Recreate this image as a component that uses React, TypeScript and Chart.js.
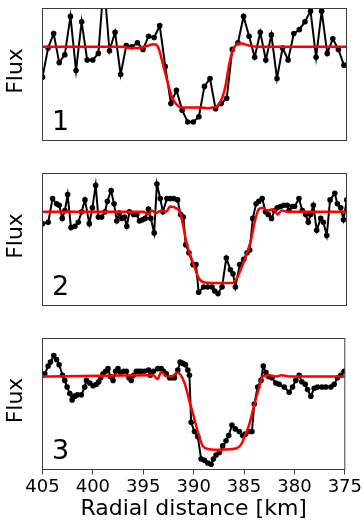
import React, { useEffect, useRef } from "react";
import { Chart, registerables } from "chart.js";

Chart.register(...registerables);

// ---------- data (radial distance in km, flux normalised to the panel range) ----------
const dist1 = [405.0, 404.45, 403.9, 403.35, 402.8, 402.24, 401.69, 401.14, 400.59, 400.04, 399.49, 398.94, 398.39, 397.84, 397.29, 396.73, 396.18, 395.63, 395.08, 394.53, 393.98, 393.43, 392.88, 392.33, 391.78, 391.22, 390.67, 390.12, 389.57, 389.02, 388.47, 387.92, 387.37, 386.82, 386.27, 385.71, 385.16, 384.61, 384.06, 383.51, 382.96, 382.41, 381.86, 381.31, 380.76, 380.2, 379.65, 379.1, 378.55, 378.0, 377.45, 376.9, 376.35, 375.8, 375.25, 374.7];
const flux1 = [0.48, 0.7, 0.81, 0.59, 0.65, 0.94, 0.53, 0.9, 0.61, 0.61, 0.66, 1.2, 0.68, 0.82, 0.5, 0.72, 0.71, 0.74, 0.69, 0.79, 0.78, 0.87, 0.56, 0.28, 0.38, 0.23, 0.14, 0.14, 0.18, 0.41, 0.47, 0.24, 0.28, 0.32, 0.69, 0.74, 0.94, 0.79, 0.63, 0.82, 0.61, 0.8, 0.47, 0.7, 0.61, 0.81, 0.84, 0.9, 0.98, 0.63, 0.98, 0.66, 0.77, 0.69, 0.57, 0.61];
const modelDist1 = [405, 397, 396.4, 395.6, 395.0, 394.5, 394.1, 393.75, 393.5, 393.22, 392.72, 392.23, 391.73, 391.24, 390.42, 389.5, 388.7, 388.2, 387.78, 387.28, 386.95, 386.62, 386.29, 386.0, 385.7, 385.4, 384.64, 383.82, 375];
const model1 = [0.71, 0.71, 0.7, 0.7, 0.71, 0.72, 0.73, 0.725, 0.69, 0.61, 0.46, 0.33, 0.27, 0.25, 0.25, 0.25, 0.245, 0.25, 0.26, 0.32, 0.41, 0.56, 0.67, 0.715, 0.735, 0.735, 0.72, 0.71, 0.71];

const dist2 = [405.0, 404.44, 404.01, 403.61, 403.35, 403.05, 402.79, 402.52, 402.19, 401.8, 401.47, 401.14, 400.81, 400.38, 400.08, 399.75, 399.49, 399.16, 398.83, 398.6, 398.23, 397.94, 397.67, 397.41, 397.18, 396.91, 396.68, 396.42, 396.02, 395.69, 395.43, 395.13, 394.87, 394.54, 394.31, 393.98, 393.71, 393.38, 393.12, 392.72, 392.39, 392.06, 391.67, 391.37, 391.1, 390.87, 390.55, 390.15, 389.85, 389.59,
  389.1, 388.7, 388.27, 388.01, 387.68, 387.28, 386.86, 386.46, 386.2, 385.96, 385.54, 385.14, 384.81, 384.55, 384.25, 383.92, 383.65, 383.32, 382.99, 382.73, 382.4, 382.1, 381.84, 381.51, 381.18, 380.85, 380.68, 380.35, 380.12, 379.69, 379.36, 379.03, 378.77, 378.54, 378.27, 377.94, 377.55, 377.28, 376.95, 376.62, 376.16, 375.9, 375.57, 375.3, 374.97];
const flux2 = [0.62, 0.63, 0.81, 0.77, 0.76, 0.66, 0.72, 0.84, 0.59, 0.6, 0.63, 0.71, 0.8, 0.62, 0.74, 0.91, 0.67, 0.67, 0.71, 0.79, 0.87, 0.77, 0.64, 0.7, 0.66, 0.67, 0.6, 0.71, 0.69, 0.69, 0.64, 0.65, 0.66, 0.73, 0.66, 0.55, 0.92, 0.81, 0.71, 0.81, 0.81, 0.81, 0.8, 0.69, 0.67, 0.46, 0.4, 0.31, 0.31, 0.1,
  0.14, 0.14, 0.14, 0.11, 0.09, 0.14, 0.36, 0.27, 0.24, 0.14, 0.31, 0.35, 0.4, 0.42, 0.66, 0.77, 0.79, 0.81, 0.71, 0.69, 0.66, 0.72, 0.74, 0.75, 0.76, 0.76, 0.72, 0.75, 0.75, 0.81, 0.72, 0.69, 0.63, 0.69, 0.76, 0.57, 0.66, 0.63, 0.53, 0.8, 0.85, 0.77, 0.74, 0.65, 0.8];
const modelDist2 = [405, 395.0, 394.55, 394.2, 393.8, 393.3, 392.8, 392.4, 391.75, 391.45, 391.24, 390.74, 390.08, 389.6, 389.0, 387.5, 386.3, 385.8, 385.14, 384.48, 383.98, 383.65, 383.3, 382.8, 382.2, 381.8, 381.4, 380.8, 375];
const model2 = [0.71, 0.71, 0.69, 0.72, 0.7, 0.72, 0.71, 0.75, 0.735, 0.71, 0.65, 0.46, 0.31, 0.21, 0.175, 0.17, 0.17, 0.21, 0.33, 0.48, 0.66, 0.73, 0.74, 0.72, 0.73, 0.69, 0.72, 0.71, 0.71];

const dist3 = [405.0, 404.77, 404.44, 404.21, 403.88, 403.61, 403.35, 403.02, 402.79, 402.56, 402.29, 402.06, 401.8, 401.53, 401.14, 400.81, 400.64, 400.31, 399.98, 399.65, 399.42, 399.22, 398.99, 398.73, 398.5, 398.27, 398.0, 397.74, 397.51, 397.24, 396.95, 396.68, 396.42, 396.19, 395.96, 395.69, 395.43, 395.2, 394.87, 394.47, 394.31, 393.98, 393.55, 393.22, 392.99, 392.72, 392.39, 392.13, 391.9, 391.57, 391.34, 391.07, 390.81, 390.58, 390.42,
  390.25, 389.92, 389.59, 389.26, 388.93, 388.6, 388.27, 388.04, 387.78, 387.45, 387.12, 386.79, 386.52, 386.2, 385.87, 385.47, 385.14, 384.88, 384.48, 384.22, 383.98, 383.65, 383.32, 383.09, 382.83, 382.57, 382.23, 381.84, 381.51, 381.01, 380.52, 380.19, 379.86, 379.53, 379.27, 378.93, 378.7, 378.37, 378.04, 377.71, 377.28, 376.89, 376.39, 376.06, 375.73, 375.4, 375.07];
const flux3 = [0.72, 0.73, 0.79, 0.82, 0.87, 0.84, 0.8, 0.72, 0.68, 0.63, 0.58, 0.53, 0.56, 0.57, 0.57, 0.63, 0.68, 0.66, 0.64, 0.65, 0.67, 0.7, 0.73, 0.75, 0.77, 0.71, 0.68, 0.75, 0.77, 0.74, 0.75, 0.75, 0.7, 0.68, 0.72, 0.75, 0.75, 0.75, 0.75, 0.76, 0.72, 0.75, 0.77, 0.77, 0.75, 0.73, 0.7, 0.7, 0.7, 0.76, 0.82, 0.81, 0.8, 0.76, 0.72,
  0.36, 0.29, 0.25, 0.08, 0.07, 0.05, 0.04, 0.08, 0.11, 0.13, 0.18, 0.22, 0.26, 0.34, 0.31, 0.29, 0.26, 0.27, 0.29, 0.29, 0.5, 0.63, 0.68, 0.79, 0.74, 0.71, 0.7, 0.66, 0.65, 0.63, 0.59, 0.63, 0.68, 0.72, 0.67, 0.65, 0.61, 0.56, 0.62, 0.63, 0.63, 0.63, 0.63, 0.65, 0.7, 0.72, 0.75];
const modelDist3 = [405, 394.0, 393.6, 393.2, 392.7, 392.2, 391.6, 391.2, 390.74, 390.42, 390.08, 389.59, 389.1, 388.44, 387.5, 386.5, 385.8, 385.3, 385.0, 384.5, 384.0, 383.49, 383.16, 382.5, 381.8, 381.3, 380.5, 375];
const model3 = [0.71, 0.72, 0.69, 0.745, 0.71, 0.71, 0.74, 0.71, 0.62, 0.52, 0.43, 0.29, 0.18, 0.155, 0.15, 0.155, 0.16, 0.19, 0.24, 0.34, 0.49, 0.63, 0.71, 0.72, 0.71, 0.72, 0.71, 0.71];

const panelLabels = ["1", "2", "3"];
const xTicks = [405, 400, 395, 390, 385, 380, 375];
const xTitle = "Radial distance [km]";
const yTitle = "Flux";

// ---------- layout ----------
const W = 364;
const H = 523;
const LEFT = 42.5;
const RIGHT = 346.5;
const PANELS = [
  { top: 8.5, bottom: 140.5 },
  { top: 173.5, bottom: 305.5 },
  { top: 338.5, bottom: 469.5 },
];
const FONT = "DejaVu Sans";

const series = [
  { dist: dist1, flux: flux1, mDist: modelDist1, model: model1 },
  { dist: dist2, flux: flux2, mDist: modelDist2, model: model2 },
  { dist: dist3, flux: flux3, mDist: modelDist3, model: model3 },
];

function framePlugin(label: string) {
  return {
    id: "frame" + label,
    afterDatasetsDraw(chart: any) {
      const { ctx, chartArea: a } = chart;
      ctx.save();
      ctx.strokeStyle = "#3c3c3c";
      ctx.lineWidth = 1;
      ctx.strokeRect(a.left, a.top, a.right - a.left, a.bottom - a.top);
      ctx.fillStyle = "#000";
      ctx.font = `27px "${FONT}"`;
      ctx.textAlign = "left";
      ctx.textBaseline = "alphabetic";
      ctx.fillText(label, a.left + 9.5, a.bottom - 11);
      ctx.restore();
    },
  };
}

function makeConfig(k: number): any {
  const s = series[k];
  const p = PANELS[k];
  const last = k === PANELS.length - 1;
  return {
    type: "line",
    data: {
      datasets: [
        {
          data: s.mDist.map((x, i) => ({ x, y: s.model[i] })),
          borderColor: "#ff0000",
          borderWidth: 2.5,
          pointRadius: 0,
          cubicInterpolationMode: "monotone",
          fill: false,
        },
        {
          data: s.dist.map((x, i) => ({ x, y: s.flux[i] })),
          borderColor: "#000000",
          backgroundColor: "#000000",
          borderWidth: 2,
          pointRadius: 2.8,
          pointBorderWidth: 0,
          pointBackgroundColor: "#000000",
          tension: 0,
          fill: false,
        },
      ],
    },
    options: {
      responsive: false,
      animation: false,
      devicePixelRatio: 1,
      events: [],
      layout: {
        padding: { left: 0, right: W - RIGHT, top: p.top, bottom: last ? 0 : H - p.bottom },
      },
      plugins: { legend: { display: false }, tooltip: { enabled: false } },
      scales: {
        x: {
          type: "linear",
          min: 375,
          max: 405,
          reverse: true,
          display: last,
          afterBuildTicks: (scale: any) => {
            scale.ticks = xTicks.map((v) => ({ value: v }));
          },
          ticks: {
            autoSkip: false,
            maxRotation: 0,
            color: "#000",
            padding: 2,
            font: { family: FONT, size: 18 },
            callback: (v: any) => String(v),
          },
          grid: {
            display: true,
            drawOnChartArea: false,
            drawTicks: true,
            tickLength: 5,
            tickColor: "#3c3c3c",
            tickWidth: 1,
          },
          border: { display: false },
          title: {
            display: true,
            text: xTitle,
            color: "#000",
            font: { family: FONT, size: 22 },
            padding: { top: 0, bottom: 1 },
          },
          afterFit: last
            ? (scale: any) => {
                scale.height = H - p.bottom;
              }
            : undefined,
        },
        y: {
          type: "linear",
          min: 0,
          max: 1,
          ticks: { display: false },
          grid: { display: false },
          border: { display: false },
          title: {
            display: true,
            text: " " + yTitle,
            color: "#000",
            font: { family: FONT, size: 22 },
            padding: { top: 3.3, bottom: 0 },
          },
          afterFit: (scale: any) => {
            scale.width = LEFT;
          },
        },
      },
    },
    plugins: [framePlugin(panelLabels[k])],
  };
}

export default function App() {
  const r0 = useRef<HTMLCanvasElement>(null);
  const r1 = useRef<HTMLCanvasElement>(null);
  const r2 = useRef<HTMLCanvasElement>(null);

  useEffect(() => {
    const refs = [r0, r1, r2];
    const charts = refs.map((r, k) => new Chart(r.current as HTMLCanvasElement, makeConfig(k)));
    return () => charts.forEach((c) => c.destroy());
  }, []);

  const cs: React.CSSProperties = { position: "absolute", left: 0, top: 0, width: W, height: H };
  return (
    <div style={{ position: "absolute", left: 0, top: 0, width: W, height: H, background: "#fff" }}>
      <canvas ref={r0} width={W} height={H} style={cs} />
      <canvas ref={r1} width={W} height={H} style={cs} />
      <canvas ref={r2} width={W} height={H} style={cs} />
    </div>
  );
}
